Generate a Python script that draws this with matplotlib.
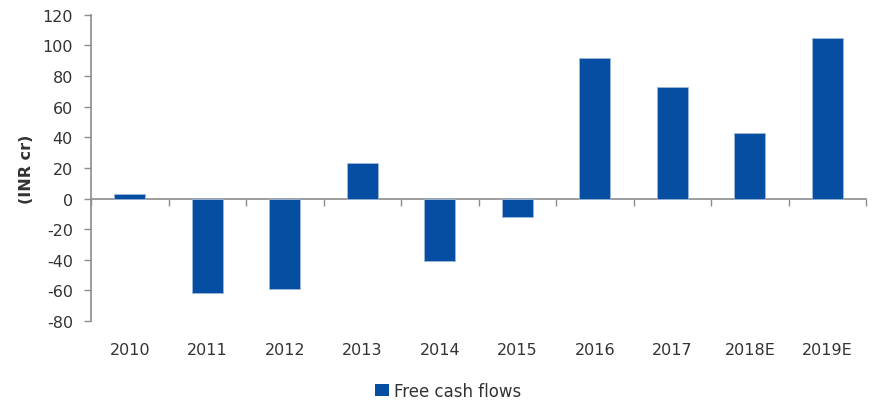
import numpy as np
import matplotlib
matplotlib.use("Agg")
import matplotlib.pyplot as plt
from matplotlib.patches import Patch

years = ['2010', '2011', '2012', '2013', '2014', '2015', '2016', '2017', '2018E', '2019E']
fcf = [3, -62, -59, 23, -41, -12, 92, 73, 43, 105]

bar_color = '#054EA2'
axis_color = '#8C8C8C'
text_color = '#333333'

plt.rcParams['font.family'] = ['DejaVu Sans']
plt.rcParams['axes.unicode_minus'] = False
plt.rcParams['font.size'] = 11.5

fig = plt.figure(figsize=(8.75, 4.06), dpi=100)
ax = fig.add_axes([0.104, 0.207, 0.886, 0.754])

x = np.arange(len(years))
ax.bar(x, fcf, width=0.4, color=bar_color, edgecolor='#9DB8DA', linewidth=0.6, zorder=3)

ax.set_xlim(-0.5, len(years) - 0.5)
ax.set_ylim(-80, 120)
ax.set_yticks(range(-80, 121, 20))
ax.tick_params(axis='y', direction='out', length=5, width=1, color=axis_color,
               labelcolor=text_color, labelsize=11.5, pad=8)

# category labels at the bottom, no tick marks
ax.set_xticks(x)
ax.set_xticklabels(years)
ax.tick_params(axis='x', length=0, labelcolor=text_color, labelsize=11.5, pad=15)

for s in ['top', 'right', 'bottom']:
    ax.spines[s].set_visible(False)
ax.spines['left'].set_color(axis_color)
ax.spines['left'].set_linewidth(1.2)

# zero line with boundary ticks
zx = ax.secondary_xaxis(0, transform=ax.transData)
zx.set_xticks(np.arange(-0.5, len(years), 1.0))
zx.set_xticklabels([])
zx.tick_params(direction='out', length=5, width=1, color=axis_color)
zx.spines['bottom'].set_color(axis_color)
zx.spines['bottom'].set_linewidth(1.2)

ax.set_ylabel('(INR cr)', fontsize=11.5, fontweight='bold', color=text_color, labelpad=6)

fig.legend(handles=[Patch(facecolor=bar_color, edgecolor='none', label='Free cash flows')],
           loc='center', bbox_to_anchor=(0.512, 0.035), frameon=False,
           handlelength=0.8, handleheight=0.8, handletextpad=0.3, fontsize=12,
           labelcolor=text_color)

fig.savefig('out.png', dpi=100)
